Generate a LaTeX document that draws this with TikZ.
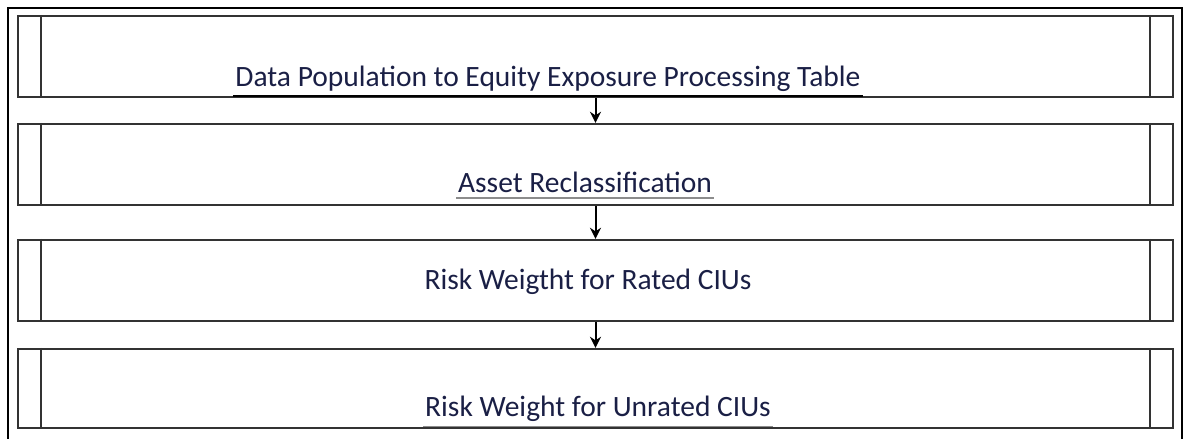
\documentclass[tikz,border=0pt]{standalone}
\usepackage{fontspec}
\setmainfont{Carlito}
\usetikzlibrary{arrows.meta}
\definecolor{txtblue}{HTML}{1A1F45}
\tikzset{
  procbox/.style={draw=black!80, line width=2.4pt, minimum width=1155pt, minimum height=81pt, inner sep=0pt},
  steptext/.style={anchor=base, font=\fontsize{29.5}{34}\selectfont, text=txtblue, inner sep=0pt, outer sep=2pt},
  uline/.style={black!45, line width=1.8pt},
  flow/.style={-{Stealth[length=11pt,width=11pt]}, line width=2pt},
}
\begin{document}
\begin{tikzpicture}[x=1pt,y=-1pt]
    \useasboundingbox (0,0) rectangle (1187,439);
    \draw[line width=2.6pt] (8,445) |- (1182,8) -- (1182,445);
    % the four steps
    \node[procbox] (pop) at (595.5,56.5) {};
    \node[procbox] (recl) at (595.5,164.5) {};
    \node[procbox] (rated) at (595.5,280.5) {};
    \node[procbox, minimum height=79pt] (unrated) at (595.5,388.5) {};
    \foreach \b in {pop,recl,rated,unrated}{
        \draw[black!80, line width=2.4pt] ([xshift=24pt]\b.north west) -- ([xshift=24pt]\b.south west)
            ([xshift=-24pt]\b.north east) -- ([xshift=-24pt]\b.south east);
    }
    \node[steptext] (popTxt) at (548,86) {Data Population to Equity Exposure Processing Table};
    \node[steptext] (reclTxt) at (585,192) {Asset Reclassification};
    \node[steptext] (ratedTxt) at (588,289) {Risk Weigtht for Rated CIUs};
    \node[steptext] (unratedTxt) at (598,416) {Risk Weight for Unrated CIUs};
    \draw[black, line width=1.8pt] ([yshift=-3pt]popTxt.south west) -- ([yshift=-3pt]popTxt.south east);
    \draw[uline] ([yshift=-4pt]reclTxt.south west) -- ([yshift=-4pt]reclTxt.south east);
    \draw[uline] ([yshift=-3.5pt]unratedTxt.south west) -- ([yshift=-3.5pt]unratedTxt.south east);
    % arrows
    \draw[flow] (pop.south) -- (recl.north);
    \draw[flow] (recl.south) -- (rated.north);
    \draw[flow] (rated.south) -- (unrated.north);
\end{tikzpicture}
\end{document}
